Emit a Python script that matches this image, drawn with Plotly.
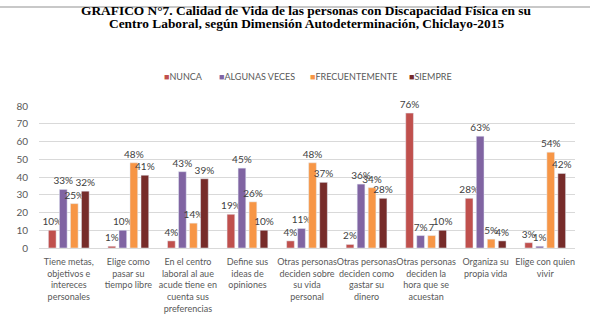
import plotly.graph_objects as go

categories = [
    "Tiene metas,<br>objetivos e<br>intereces<br>personales",
    "Elige como<br>pasar su<br>tiempo libre",
    "En el centro<br>laboral al aue<br>acude tiene en<br>cuenta sus<br>preferencias",
    "Define sus<br>ideas de<br>opiniones",
    "Otras personas<br>deciden sobre<br>su vida<br>personal",
    "Otras personas<br>deciden como<br>gastar su<br>dinero",
    "Otras personas<br>deciden la<br>hora que se<br>acuestan",
    "Organiza su<br>propia vida",
    "Elige con quien<br>vivir",
]
series_names = ["NUNCA", "ALGUNAS VECES", "FRECUENTEMENTE", "SIEMPRE"]
nunca = [10, 1, 4, 19, 4, 2, 76, 28, 3]
algunas = [33, 10, 43, 45, 11, 36, 7, 63, 1]
frecuente = [25, 48, 14, 26, 48, 34, 7, 5, 54]
siempre = [32, 41, 39, 10, 37, 28, 10, 4, 42]
labels_frecuente = ["25%", "48%", "14%", "26%", "48%", "34%", "7", "5%", "54%"]
colors = ["#C0504D", "#8064A2", "#F79646", "#772C2A"]
title_lines = [
    "<b>GRAFICO N°7. Calidad de Vida de las personas con Discapacidad Física en su</b>",
    "<b>Centro Laboral, según Dimensión Autodeterminación, Chiclayo-2015</b>",
]

W, H = 590, 326
ML, MR, MT, MB = 39, 15, 106, 69
PH = H - MT - MB
PW = W - ML - MR

def py(pix):  # pixel from top -> paper y
    return (H - MB - pix) / PH

def px(pix):  # pixel from left -> paper x
    return (pix - ML) / PW

fig = go.Figure()
all_vals = [nunca, algunas, frecuente, siempre]
for i, (name, vals) in enumerate(zip(series_names, all_vals)):
    texts = labels_frecuente if i == 2 else [f"{v}%" for v in vals]
    fig.add_trace(go.Bar(
        x=categories, y=vals, name=name, marker_color=colors[i],
        text=texts, textposition="outside", cliponaxis=False,
        textfont=dict(size=10, color="#404040", family="Lato"),
        showlegend=False,
    ))

annotations = []
for line, ypix in zip(title_lines, [4.5, 18.5]):
    annotations.append(dict(
        text=line, xref="paper", yref="paper", x=px(306), y=py(ypix),
        xanchor="center", yanchor="middle", showarrow=False, align="center",
        font=dict(family="Liberation Serif", size=13.4, color="#000000"),
    ))
legend_x = [162, 217, 308, 407]
for name, col, lx in zip(series_names, colors, legend_x):
    annotations.append(dict(
        text=f"<span style='color:{col}'>■</span>{name}",
        xref="paper", yref="paper", x=px(lx), y=py(74.5),
        xanchor="left", yanchor="middle", showarrow=False,
        font=dict(family="Lato", size=9, color="#595959"),
    ))

fig.update_layout(
    width=W, height=H,
    margin=dict(l=ML, r=MR, t=MT, b=MB),
    paper_bgcolor="white", plot_bgcolor="white",
    barmode="group", bargap=0.26, bargroupgap=0.3,
    font=dict(family="Lato", size=10, color="#595959"),
    uniformtext=dict(minsize=10, mode="show"),
    annotations=annotations,
    shapes=[dict(type="line", xref="paper", yref="paper", x0=px(0), x1=px(W),
                 y0=py(0.8), y1=py(0.8), line=dict(color="#C8C8C8", width=2))],
    showlegend=False,
)
fig.update_yaxes(range=[0, 80], dtick=10, showgrid=True, gridcolor="#D9D9D9",
                 zeroline=False, showline=False, ticklabelstandoff=10,
                 tickfont=dict(size=10, color="#595959"))
fig.update_xaxes(showline=True, linecolor="#D9D9D9", tickangle=0,
                 ticklabelstandoff=5,
                 tickfont=dict(size=9, color="#595959"))
fig.write_html("out.html")
